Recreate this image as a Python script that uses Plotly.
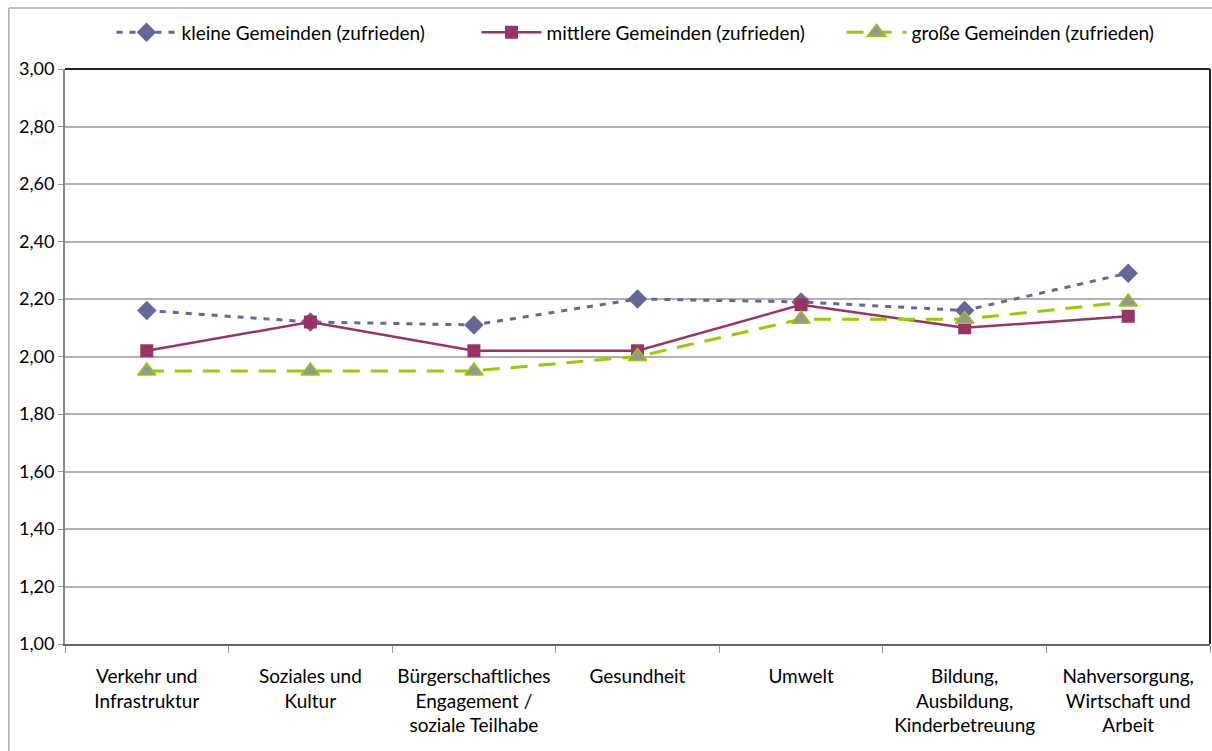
import plotly.graph_objects as go

categories = [
    "Verkehr und<br>Infrastruktur",
    "Soziales und<br>Kultur",
    "Bürgerschaftliches<br>Engagement /<br>soziale Teilhabe",
    "Gesundheit",
    "Umwelt",
    "Bildung,<br>Ausbildung,<br>Kinderbetreuung",
    "Nahversorgung,<br>Wirtschaft und<br>Arbeit",
]
kleine = [2.16, 2.12, 2.11, 2.20, 2.19, 2.16, 2.29]
mittlere = [2.02, 2.12, 2.02, 2.02, 2.18, 2.10, 2.14]
grosse = [1.95, 1.95, 1.95, 2.00, 2.13, 2.13, 2.19]
y_ticks = [1.0, 1.2, 1.4, 1.6, 1.8, 2.0, 2.2, 2.4, 2.6, 2.8, 3.0]

font = "Lato, 'Open Sans', sans-serif"

fig = go.Figure()
fig.add_trace(go.Scatter(
    x=categories, y=kleine, name="kleine Gemeinden (zufrieden)",
    mode="lines+markers",
    line=dict(color="#666699", width=3, dash="6px,7px"),
    marker=dict(symbol="diamond", size=15, color="#666699"),
))
fig.add_trace(go.Scatter(
    x=categories, y=mittlere, name="mittlere Gemeinden (zufrieden)",
    mode="lines+markers",
    line=dict(color="#993366", width=2.5),
    marker=dict(symbol="square", size=13, color="#993366"),
))
fig.add_trace(go.Scatter(
    x=categories, y=grosse, name="große Gemeinden (zufrieden)",
    mode="lines+markers",
    line=dict(color="#99CC00", width=3, dash="17px,11px"),
    marker=dict(symbol="triangle-up", size=16, color="#969696",
                line=dict(color="#99CC00", width=1.5)),
))

# rahmen
fig.add_shape(type="line", xref="paper", yref="paper", x0=0, x1=1, y0=1, y1=1,
              line=dict(color="#222222", width=2))
fig.add_shape(type="line", xref="paper", yref="paper", x0=1, x1=1, y0=0, y1=1,
              line=dict(color="#222222", width=2))
fig.add_shape(type="line", xref="paper", yref="paper", x0=-0.049, x1=1.1, y0=1.106, y1=1.106,
              line=dict(color="#AAAAAA", width=1.5))
fig.add_shape(type="line", xref="paper", yref="paper", x0=-0.049, x1=-0.049, y0=-0.3, y1=1.106,
              line=dict(color="#AAAAAA", width=1.5))

fig.update_layout(
    width=1212, height=751,
    margin=dict(l=65, r=2, t=69, b=107, autoexpand=False),
    paper_bgcolor="white", plot_bgcolor="white",
    separators=",.",
    font=dict(family=font, size=19, color="black"),
    showlegend=True,
    legend=dict(orientation="h", xref="container", x=0.092, xanchor="left",
                yref="container", y=0.957, yanchor="middle", bgcolor="rgba(0,0,0,0)",
                font=dict(size=19), entrywidth=290, itemwidth=60),
    xaxis=dict(
        range=[-0.5, 6.5], tickson="boundaries", ticks="outside", ticklen=7,
        tickcolor="#999999", showgrid=False, showline=True, linecolor="#666666",
        linewidth=2, tickfont=dict(size=19), fixedrange=True, automargin=False,
        ticklabelstandoff=14,
    ),
    yaxis=dict(
        range=[1, 3], tickvals=y_ticks, tickformat=".2f", ticks="outside", ticklen=5,
        tickcolor="#999999", showgrid=True, gridcolor="#B0B0B0", gridwidth=1.5,
        showline=True, linecolor="#888888", linewidth=2, zeroline=False,
        tickfont=dict(size=18), automargin=False,
    ),
)

fig.write_html("out.html", config={"displayModeBar": False},
               post_script="document.body.style.margin = '0';")
